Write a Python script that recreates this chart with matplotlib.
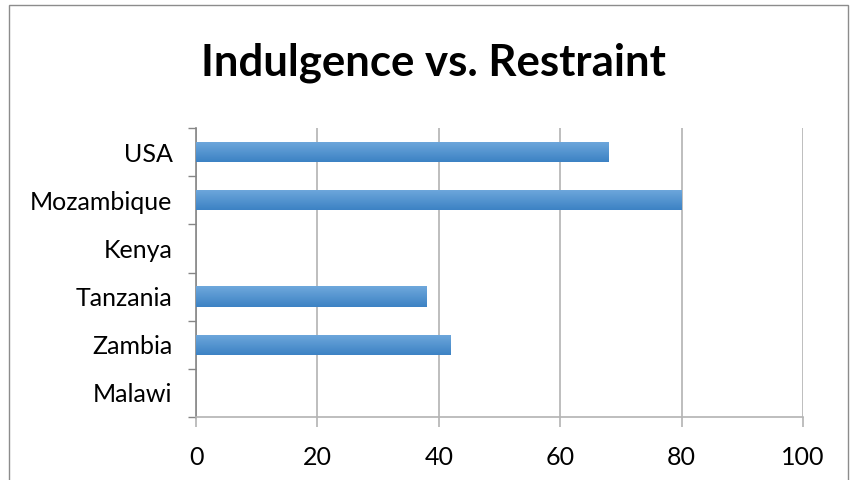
import numpy as np
import matplotlib.pyplot as plt
from matplotlib.patches import Rectangle
from matplotlib.colors import LinearSegmentedColormap

# Hofstede indulgence scores
countries = ['Malawi', 'Zambia', 'Tanzania', 'Kenya', 'Mozambique', 'USA']
scores = [0, 42, 38, 0, 80, 68]
xticks = [0, 20, 40, 60, 80, 100]

plt.rcParams['font.family'] = ['Lato', 'DejaVu Sans']

fig = plt.figure(figsize=(8.51, 4.8), dpi=100)
fig.patches.append(Rectangle((9 / 851, -0.1), 839 / 851, 1.1 - 5 / 480,
                             transform=fig.transFigure, fill=False,
                             edgecolor='#8c8c8c', linewidth=1.0))

ax = fig.add_axes([196 / 851, 1 - 417 / 480, 607 / 851, 289 / 480])

y = np.arange(len(countries))
bars = ax.barh(y, scores, height=0.42, color='#5b9bd5', edgecolor='none', zorder=3)

# vertical gradient on each bar, lighter at the top
grad = LinearSegmentedColormap.from_list('bar', ['#3c82c4', '#6fa8dc'])
g = np.linspace(0, 1, 64).reshape(-1, 1)
for b in bars:
    if b.get_width() <= 0:
        continue
    x0, y0 = b.get_x(), b.get_y()
    im = ax.imshow(g, cmap=grad, aspect='auto', origin='lower',
                   extent=[x0, x0 + b.get_width(), y0, y0 + b.get_height()],
                   zorder=4, interpolation='bicubic')
    im.set_clip_path(b)

ax.set_xlim(0, 100)
ax.set_ylim(-0.5, len(countries) - 0.5)
ax.set_xticks(xticks)
ax.set_xticklabels([str(v) for v in xticks])
ax.set_yticks(y)
ax.set_yticklabels(countries)
ax.set_yticks(np.arange(-0.5, len(countries), 1), minor=True)

ax.grid(axis='x', color='#b3b3b3', linewidth=1.2, zorder=0)
ax.tick_params(axis='y', which='major', length=0, pad=17, labelsize=18)
ax.tick_params(axis='y', which='minor', length=6, width=1, color='#868686')
ax.tick_params(axis='x', length=7, width=1.2, color='#b3b3b3', pad=14, labelsize=18)

for side in ['top', 'right']:
    ax.spines[side].set_visible(False)
ax.spines['left'].set_color('#868686')
ax.spines['left'].set_linewidth(1.2)
ax.spines['bottom'].set_color('#b3b3b3')
ax.spines['bottom'].set_linewidth(1.2)

fig.text(433 / 851, 1 - 63 / 480, 'Indulgence vs. Restraint', ha='center', va='center',
         fontsize=31.5, fontweight='bold')

fig.savefig('out.png', dpi=100)
